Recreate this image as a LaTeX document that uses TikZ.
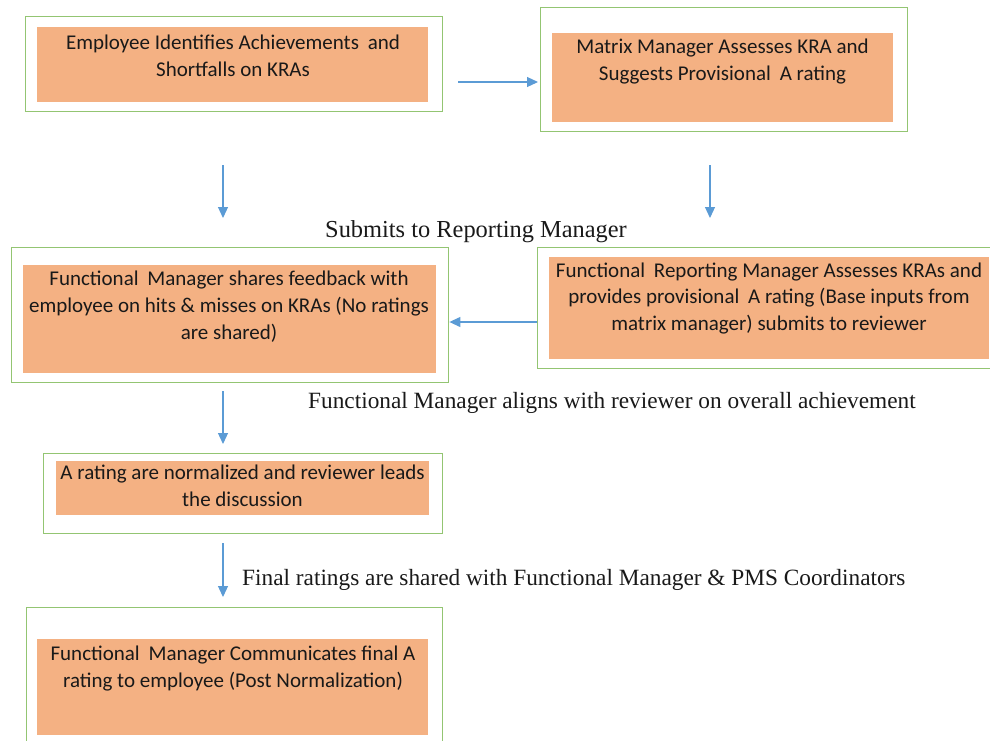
\documentclass[tikz,border=0pt]{standalone}
\usepackage{fontspec}
\setmainfont{Carlito}
\newfontfamily\lblserif{Liberation Serif}
\usetikzlibrary{arrows.meta}
\definecolor{boxorange}{HTML}{F4B183}
\definecolor{boxgreen}{HTML}{93C572}
\definecolor{arrowblue}{HTML}{5B9BD5}
\newcommand\wsp{\hspace{0.42em}}
\begin{document}
\begin{tikzpicture}[x=1pt,y=-1pt,
  outerbox/.style={draw=boxgreen, line width=1.4pt, fill=white, inner sep=0pt, anchor=north west},
  innerbox/.style={fill=boxorange, inner sep=0pt, anchor=north west},
  boxtext/.style={inner sep=0pt, anchor=base, text=black!90, font=\fontsize{21}{27}\selectfont},
  flowlabel/.style={inner sep=0pt, anchor=base west, text=black!90, font=\lblserif\fontsize{23.3}{28}\selectfont},
  flow/.style={draw=arrowblue, line width=1.2pt, -{Triangle[width=10pt,length=11pt]}}]
\useasboundingbox (0,0) rectangle (990,740);
\clip (0,0) rectangle (990,740);

% Box 1
\node[outerbox, minimum width=417pt, minimum height=95pt] (o1) at (25,16) {};
\node[innerbox, minimum width=391pt, minimum height=75pt] (i1) at (37,27) {};
\node[boxtext] (t1) at (233,49) {\begin{tabular}[t]{@{}c@{}}Employee Identifies Achievements\wsp and\\Shortfalls on KRAs\end{tabular}};

% Box 2
\node[outerbox, minimum width=367pt, minimum height=124pt] (o2) at (540,7) {};
\node[innerbox, minimum width=341pt, minimum height=89pt] (i2) at (552,33) {};
\node[boxtext] (t2) at (722.5,53) {\begin{tabular}[t]{@{}c@{}}Matrix Manager Assesses KRA and\\Suggests Provisional\wsp A rating\end{tabular}};

% Box 3
\node[outerbox, minimum width=437pt, minimum height=135pt] (o3) at (11,247) {};
\node[innerbox, minimum width=413pt, minimum height=108pt] (i3) at (23,265) {};
\node[boxtext] (t3) at (229,285) {\begin{tabular}[t]{@{}c@{}}Functional\wsp Manager shares feedback with\\employee on hits \& misses on KRAs (No ratings\\are shared)\end{tabular}};

% Box 4
\node[outerbox, minimum width=464pt, minimum height=121pt] (o4) at (537,247) {};
\node[innerbox, minimum width=440pt, minimum height=102pt] (i4) at (549,257) {};
\node[boxtext, font=\fontsize{21}{26.5}\selectfont] (t4) at (769,277) {\begin{tabular}[t]{@{}c@{}}Functional\wsp Reporting Manager Assesses KRAs and\\provides provisional\wsp A rating (Base inputs from\\matrix manager) submits to reviewer\end{tabular}};

% Box 5
\node[outerbox, minimum width=399pt, minimum height=80pt] (o5) at (43,453) {};
\node[innerbox, minimum width=373pt, minimum height=54pt] (i5) at (56,461) {};
\node[boxtext] (t5) at (242.5,479) {\begin{tabular}[t]{@{}c@{}}A rating are normalized and reviewer leads\\the discussion\end{tabular}};

% Box 6
\node[outerbox, minimum width=416pt, minimum height=150pt] (o6) at (26,607) {};
\node[innerbox, minimum width=391pt, minimum height=96pt] (i6) at (37,639) {};
\node[boxtext] (t6) at (233,660) {\begin{tabular}[t]{@{}c@{}}Functional\wsp Manager Communicates final A\\rating to employee (Post Normalization)\end{tabular}};

% Labels
\node[flowlabel, font=\lblserif\fontsize{24.4}{28}\selectfont] (l1) at (325,237.5) {Submits to Reporting Manager};
\node[flowlabel] (l2) at (308,408) {Functional Manager aligns with reviewer on overall achievement};
\node[flowlabel] (l3) at (242,585) {Final ratings are shared with Functional Manager \& PMS Coordinators};

% Arrows
\coordinate (a1s) at (458,82);
\coordinate (a1e) at (538,82);
\draw[flow] (a1s) -- (a1e);

\coordinate (a2s) at (223,165);
\coordinate (a2e) at (223,218);
\draw[flow] (a2s) -- (a2e);

\coordinate (a3s) at (710,165);
\coordinate (a3e) at (710,218);
\draw[flow] (a3s) -- (a3e);

\coordinate (a4y) at (0,322);
\draw[flow] (o4.west |- a4y) -- (o3.east |- a4y);

\coordinate (a5s) at (223,391);
\coordinate (a5e) at (223,444);
\draw[flow] (a5s) -- (a5e);

\coordinate (a6s) at (223,543);
\coordinate (a6e) at (223,597);
\draw[flow] (a6s) -- (a6e);
\end{tikzpicture}
\end{document}
